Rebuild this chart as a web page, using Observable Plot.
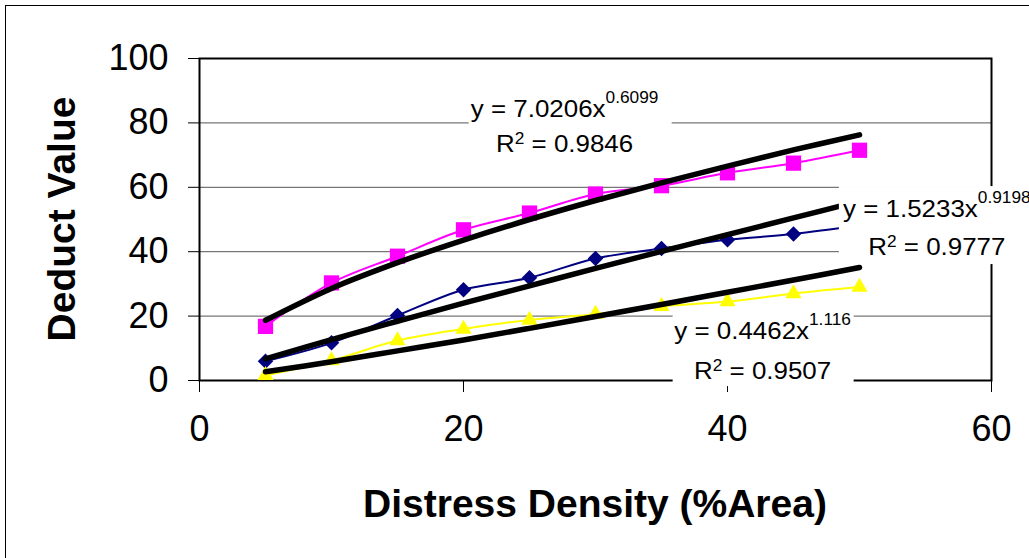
<!DOCTYPE html>
<html><head><meta charset="utf-8">
<script src="https://cdn.jsdelivr.net/npm/d3@7"></script>
<script src="https://cdn.jsdelivr.net/npm/@observablehq/plot@0.6"></script>
<style>body{margin:0;background:#fff} svg{display:block}</style>
</head><body><div id="chart"></div>
<script>
// ---- data ----
const density = [5, 10, 15, 20, 25, 30, 35, 40, 45, 50];
const highSeries = [16.8, 30.3, 38.6, 46.8, 52.0, 57.9, 60.5, 64.5, 67.5, 71.5];
const mediumSeries = [6.0, 11.7, 20.2, 28.2, 31.9, 37.9, 41.0, 43.7, 45.5, 48.2];
const lowSeries = [1.6, 6.2, 12.4, 16.0, 18.8, 20.6, 23.0, 24.5, 27.0, 29.0];
const highTrend = [18.7, 28.6, 36.6, 43.6, 50.0, 55.9, 61.4, 66.6, 71.6, 76.3];
const mediumTrend = [6.7, 12.7, 18.4, 24.0, 29.4, 34.8, 40.1, 45.3, 50.5, 55.7];
const lowTrend = [2.7, 5.8, 9.2, 12.6, 16.2, 19.9, 23.6, 27.4, 31.2, 35.1];
const xTicks = [0, 20, 40, 60];
const yTicks = [0, 20, 40, 60, 80, 100];
const gridValues = [20, 40, 60, 80];
const eqText = ["y = 7.0206x", "y = 1.5233x", "y = 0.4462x"];
const eqExponent = ["0.6099", "0.9198", "1.116"];
const r2Value = ["0.9846", "0.9777", "0.9507"];
const xTitle = "Distress Density (%Area)";
const yTitle = "Deduct Value";

// ---- layout (not data) ----
const labelLayout = [
  {x: 27.7, y: 81.7, gap: 35, box: [-96, 107, -32, 45]},
  {x: 55.9, y: 50.6, gap: 38, box: [-98, 110, -31, 47]},
  {x: 42.7, y: 12.7, gap: 40, box: [-90, 91, -28, 47]}
];

const toRows = (vals, name) => density.map((d, i) => ({x: d, y: vals[i], s: name}));
const high = toRows(highSeries, "high");
const med = toRows(mediumSeries, "medium");
const low = toRows(lowSeries, "low");
const tHigh = toRows(highTrend, "high");
const tMed = toRows(mediumTrend, "medium");
const tLow = toRows(lowTrend, "low");

const FONT = "'Liberation Sans', Arial, Helvetica, sans-serif";

const plot = Plot.plot({
  width: 1029,
  height: 558,
  marginLeft: 199,
  marginRight: 38,
  marginTop: 58,
  marginBottom: 178,
  style: {fontFamily: FONT, fontSize: "36px", color: "#000", background: "#fff", overflow: "visible"},
  x: {domain: [0, 60], ticks: xTicks, tickSize: 12, tickPadding: 23, label: null},
  y: {domain: [0, 100], ticks: yTicks, tickSize: 11, tickPadding: 20, label: null},
  marks: [
    Plot.ruleY(gridValues, {stroke: "#555", strokeWidth: 1}),
    Plot.frame({stroke: "#000", strokeWidth: 2}),
    Plot.line(high, {x: "x", y: "y", stroke: "#FF00FF", strokeWidth: 2, curve: "catmull-rom"}),
    Plot.line(med, {x: "x", y: "y", stroke: "#000080", strokeWidth: 2, curve: "catmull-rom"}),
    Plot.line(low, {x: "x", y: "y", stroke: "#FFFF00", strokeWidth: 2, curve: "catmull-rom"}),
    Plot.dot(high, {x: "x", y: "y", symbol: "square", r: 8.6, fill: "#FF00FF", stroke: "none"}),
    Plot.dot(med, {x: "x", y: "y", symbol: "diamond2", r: 7, fill: "#000080", stroke: "none"}),
    Plot.dot(low, {x: "x", y: "y", symbol: "triangle", r: 6, fill: "#FFFF00", stroke: "none"}),
    Plot.line(tHigh, {x: "x", y: "y", stroke: "#000", strokeWidth: 5.5, curve: "catmull-rom"}),
    Plot.line(tMed, {x: "x", y: "y", stroke: "#000", strokeWidth: 5.5, curve: "catmull-rom"}),
    Plot.line(tLow, {x: "x", y: "y", stroke: "#000", strokeWidth: 5.5, curve: "catmull-rom"})
  ]
});

const svg = d3.select(plot);
const xs = plot.scale("x"), ys = plot.scale("y");

// equation labels with white boxes
labelLayout.forEach((L, i) => {
  const cx = xs.apply(L.x), by = ys.apply(L.y);
  const g = svg.append("g").attr("font-family", FONT).attr("fill", "#000");
  g.append("rect")
    .attr("x", cx + L.box[0]).attr("y", by + L.box[2])
    .attr("width", L.box[1] - L.box[0]).attr("height", L.box[3] - L.box[2])
    .attr("fill", "#fff");
  const tf = `translate(${cx},0) scale(1.08,1) translate(${-cx},0)`;
  const t1 = g.append("text").attr("x", cx).attr("y", by).attr("text-anchor", "middle")
    .attr("font-size", 24).attr("transform", tf);
  t1.append("tspan").text(eqText[i]);
  t1.append("tspan").attr("font-size", 16).attr("dy", -14).text(eqExponent[i]);
  const t2 = g.append("text").attr("x", cx).attr("y", by + L.gap).attr("text-anchor", "middle")
    .attr("font-size", 24).attr("transform", tf);
  t2.append("tspan").text("R");
  t2.append("tspan").attr("font-size", 16).attr("dy", -8).text("2");
  t2.append("tspan").attr("dy", 8).text(" = " + r2Value[i]);
});

// axis titles
const [x0, x1] = xs.range, [y0, y1] = ys.range;
svg.append("text").attr("x", (x0 + x1) / 2).attr("y", y0 + 137)
  .attr("text-anchor", "middle").attr("font-family", FONT).attr("font-weight", "bold")
  .attr("font-size", 39).text(xTitle);
svg.append("text")
  .attr("transform", `translate(${x0 - 124},${(y0 + y1) / 2}) rotate(-90)`)
  .attr("text-anchor", "middle").attr("font-family", FONT).attr("font-weight", "bold")
  .attr("font-size", 39).text(yTitle);

// outer chart-area border (left and top visible, rest outside the window)
svg.append("rect").attr("x", 5.5).attr("y", 5.5).attr("width", 1200).attr("height", 1200)
  .attr("fill", "none").attr("stroke", "#000").attr("stroke-width", 1);

document.getElementById("chart").appendChild(plot);
</script>
</body></html>
